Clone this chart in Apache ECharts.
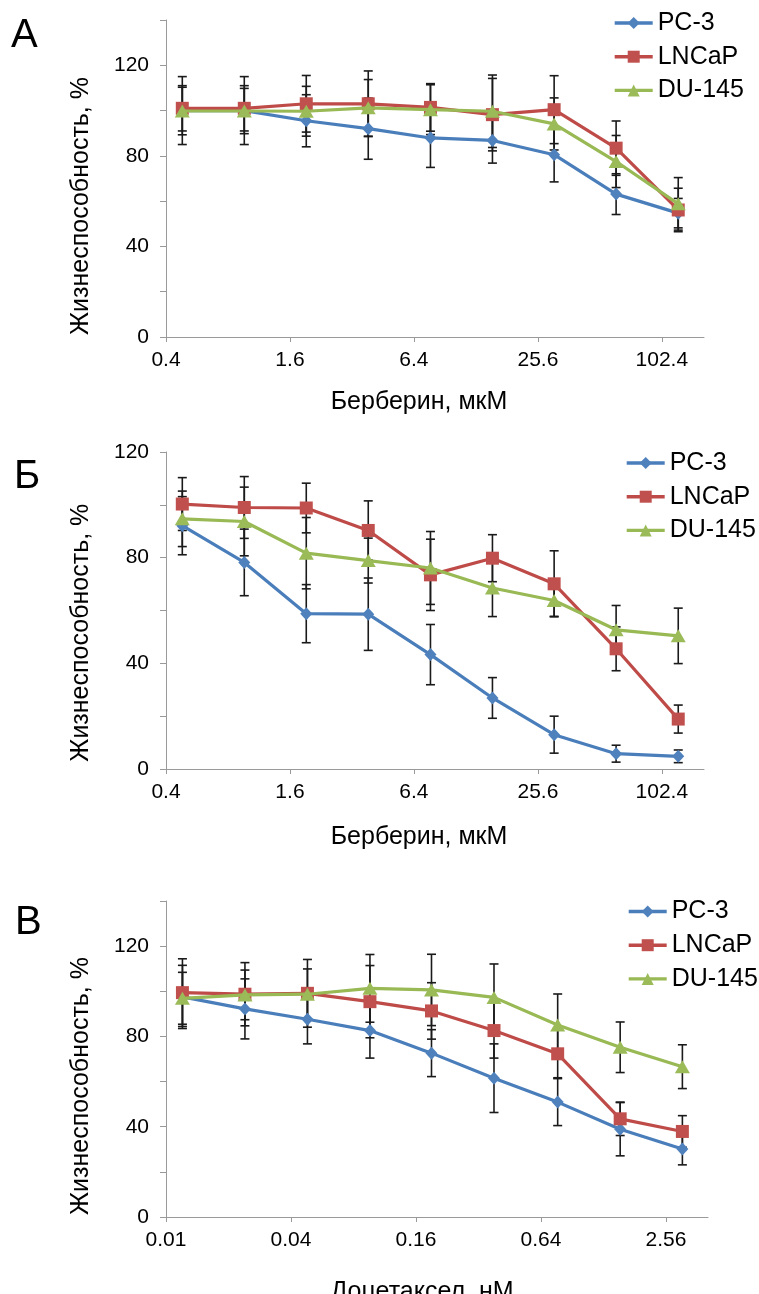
<!DOCTYPE html>
<html>
<head>
<meta charset="utf-8">
<script src="https://cdn.jsdelivr.net/npm/echarts@6/dist/echarts.min.js"></script>
<style>html,body{margin:0;padding:0;background:#fff}#c{width:759px;height:1294px}</style>
</head>
<body>
<div id="c"></div>
<script>
// ---------- data ----------
const seriesNames = ['PC-3', 'LNCaP', 'DU-145'];

const berberineConc = [0.48, 0.96, 1.92, 3.84, 7.7, 15.4, 30.7, 61.4, 123];
const docetaxelConc = [0.012, 0.024, 0.048, 0.096, 0.19, 0.38, 0.77, 1.54, 3.07];

const berberineTickValues = [0.4, 1.6, 6.4, 25.6, 102.4];
const berberineTickLabels = ['0.4', '1.6', '6.4', '25.6', '102.4'];
const docetaxelTickValues = [0.01, 0.04, 0.16, 0.64, 2.56];
const docetaxelTickLabels = ['0.01', '0.04', '0.16', '0.64', '2.56'];
const yTickLabels = ['0', '40', '80', '120'];

// Panel А (berberine)
const pc3A = [100, 100, 95.5, 92, 87.9, 86.8, 80.5, 63.1, 54.7];
const pc3AErr = [15, 15, 11.5, 13.5, 13, 10, 12, 9, 6.5];
const lncapA = [101, 101, 103, 103, 101.4, 98.2, 100.4, 83.4, 56.1];
const lncapAErr = [10, 10, 12.5, 14.5, 10.5, 16, 15, 12, 9.6];
const du145A = [99.8, 99.8, 99.7, 101.2, 100.4, 99.7, 94.1, 77.5, 58.8];
const du145AErr = [10.5, 10, 11, 12.5, 11, 16, 11.5, 11.5, 11.6];

// Panel Б (berberine)
const pc3B = [92.1, 78.2, 58.8, 58.6, 43.3, 26.9, 13, 5.8, 4.8];
const pc3BErr = [11, 12.6, 11, 13.7, 11.4, 7.7, 7, 3.2, 2.4];
const lncapB = [100.3, 99, 98.8, 90.3, 73.5, 79.8, 70.1, 45.5, 18.9];
const lncapBErr = [10, 11.7, 9.4, 11.2, 13.5, 8.9, 12.5, 8.3, 5.3];
const du145B = [94.7, 93.7, 81.7, 78.9, 76.1, 68.5, 63.8, 52.7, 50.4];
const du145BErr = [10.5, 13, 13.5, 8.5, 13.8, 10.8, 6, 9.2, 10.5];

// Panel В (docetaxel)
const pc3C = [97.5, 92.2, 87.6, 82.6, 72.6, 61.5, 50.9, 38.9, 30.1];
const pc3CErr = [14, 13.3, 10.9, 12.2, 10.4, 15.2, 10.4, 11.8, 7];
const lncapC = [99.4, 98.7, 99.1, 95.4, 91.3, 82.6, 72.3, 43.5, 37.9];
const lncapCErr = [15, 14, 15, 16, 12.5, 12.2, 10.6, 7.4, 7];
const du145C = [96.9, 98.4, 98.7, 101.3, 100.6, 97.3, 85.1, 75.2, 66.6];
const du145CErr = [11.5, 11, 11.2, 15, 15.8, 14.8, 13.7, 11.2, 9.7];

// ---------- styling ----------
const FF = "'Liberation Sans', Arial, sans-serif";
const axisColor = '#9a9a9a';
const lineColors = ['#4A7EBB', '#BE4B48', '#98B954'];
const markerColors = ['#4F81BD', '#C0504D', '#9BBB59'];
const symbols = ['diamond', 'rect', 'triangle'];
const symbolSizes = [[12, 13], [13, 13], [15, 13]];

// x axes are logarithmic (base 4); positions are log4(c / firstTick)
function log4Pos(c, base0) { return Math.log(c / base0) / Math.log(4); }

const panels = [
  { conc: berberineConc, ticks: berberineTickValues, labels: berberineTickLabels,
    vals: [pc3A, lncapA, du145A], errs: [pc3AErr, lncapAErr, du145AErr],
    grid: { left: 166, top: 20, width: 538, height: 317 }, xSpan: 4.34, yMax: 140,
    legend: { left: 613, top: 10.5 } },
  { conc: berberineConc, ticks: berberineTickValues, labels: berberineTickLabels,
    vals: [pc3B, lncapB, du145B], errs: [pc3BErr, lncapBErr, du145BErr],
    grid: { left: 166, top: 452, width: 538, height: 317 }, xSpan: 4.34, yMax: 120,
    legend: { left: 625, top: 450.5 } },
  { conc: docetaxelConc, ticks: docetaxelTickValues, labels: docetaxelTickLabels,
    vals: [pc3C, lncapC, du145C], errs: [pc3CErr, lncapCErr, du145CErr],
    grid: { left: 166, top: 901, width: 542, height: 316 }, xSpan: 4.336, yMax: 140,
    legend: { left: 627, top: 899 } }
];

const grids = [], xAxes = [], yAxes = [], series = [], legends = [];

panels.forEach((p, i) => {
  grids.push(Object.assign({ containLabel: false }, p.grid));
  const b0 = p.ticks[0];
  const tickPos = p.ticks.map(t => log4Pos(t, b0));
  xAxes.push({
    type: 'value', gridIndex: i, min: 0, max: p.xSpan,
    axisLine: { show: true, onZero: false, lineStyle: { color: axisColor, width: 1 } },
    axisTick: { show: true, length: 5, customValues: tickPos, lineStyle: { color: axisColor } },
    axisLabel: {
      customValues: tickPos, margin: 13, color: '#000', fontSize: 21, fontFamily: FF,
      formatter: v => {
        const k = tickPos.findIndex(t => Math.abs(t - v) < 1e-6);
        return k >= 0 ? p.labels[k] : '';
      }
    },
    splitLine: { show: false }
  });
  yAxes.push({
    type: 'value', gridIndex: i, min: 0, max: p.yMax, interval: 20,
    axisLine: { show: true, lineStyle: { color: axisColor, width: 1 } },
    axisTick: { show: true, length: 6, lineStyle: { color: axisColor } },
    axisLabel: {
      margin: 17, color: '#000', fontSize: 21, fontFamily: FF,
      formatter: v => (yTickLabels.indexOf(String(v)) >= 0 ? String(v) : '')
    },
    splitLine: { show: false }
  });

  seriesNames.forEach((name, s) => {
    const pts = p.conc.map((c, j) => [log4Pos(c, b0), p.vals[s][j], p.errs[s][j]]);
    // error bars
    series.push({
      type: 'custom', name: name + ' SD', xAxisIndex: i, yAxisIndex: i, z: 1, silent: true,
      encode: { x: 0, y: 1 },
      data: pts,
      renderItem: (params, api) => {
        const x = api.value(0), y = api.value(1), e = api.value(2);
        const top = api.coord([x, y + e]);
        const bot = api.coord([x, y - e]);
        const hw = 4.5;
        const st = { stroke: '#1a1a1a', lineWidth: 1.6 };
        return {
          type: 'group',
          children: [
            { type: 'line', shape: { x1: top[0], y1: top[1], x2: bot[0], y2: bot[1] }, style: st },
            { type: 'line', shape: { x1: top[0] - hw, y1: top[1], x2: top[0] + hw, y2: top[1] }, style: st },
            { type: 'line', shape: { x1: bot[0] - hw, y1: bot[1], x2: bot[0] + hw, y2: bot[1] }, style: st }
          ]
        };
      }
    });
  });
  seriesNames.forEach((name, s) => {
    const pts = p.conc.map((c, j) => [log4Pos(c, b0), p.vals[s][j]]);
    series.push({
      type: 'line', name: name, xAxisIndex: i, yAxisIndex: i, z: 3 + s,
      data: pts,
      symbol: symbols[s], symbolSize: symbolSizes[s], showSymbol: true,
      lineStyle: { color: lineColors[s], width: 3.2 },
      itemStyle: { color: markerColors[s], borderWidth: 0 },
      emphasis: { disabled: true },
      animation: false
    });
  });

  legends.push({
    data: seriesNames, orient: 'vertical', left: p.legend.left, top: p.legend.top,
    padding: 0, itemGap: 8.7, itemWidth: 38, itemHeight: 15,
    lineStyle: { width: 3.4 },
    textStyle: { fontSize: 25, lineHeight: 25, color: '#000', fontFamily: FF },
    selectedMode: false
  });
});

const txt = (text, x, y, opts) => ({
  type: 'text', x: x, y: y, silent: true,
  style: Object.assign({ text: text, fill: '#000', fontSize: 25, fontFamily: FF, align: 'center', verticalAlign: 'middle' }, opts || {})
});

const yTitle = 'Жизнеспособность, %';
const graphics = [
  txt('А', 11, 35.5, { fontSize: 40, align: 'left' }),
  txt('Б', 14, 477.4, { fontSize: 40, align: 'left' }),
  txt('В', 15, 922.8, { fontSize: 40, align: 'left' }),
  Object.assign(txt(yTitle, 81, 335, { align: 'left' }), { rotation: Math.PI / 2 }),
  Object.assign(txt(yTitle, 81, 761.7, { align: 'left' }), { rotation: Math.PI / 2 }),
  Object.assign(txt(yTitle, 81, 1215, { align: 'left' }), { rotation: Math.PI / 2 }),
  txt('Берберин, мкМ', 419, 402),
  txt('Берберин, мкМ', 419, 837),
  txt('Доцетаксел, нМ', 422, 1292)
];

const chart = echarts.init(document.getElementById('c'), null, { renderer: 'canvas' });
chart.setOption({
  backgroundColor: '#fff',
  animation: false,
  textStyle: { fontFamily: FF },
  grid: grids,
  xAxis: xAxes,
  yAxis: yAxes,
  legend: legends,
  series: series,
  graphic: graphics
});
</script>
</body>
</html>
